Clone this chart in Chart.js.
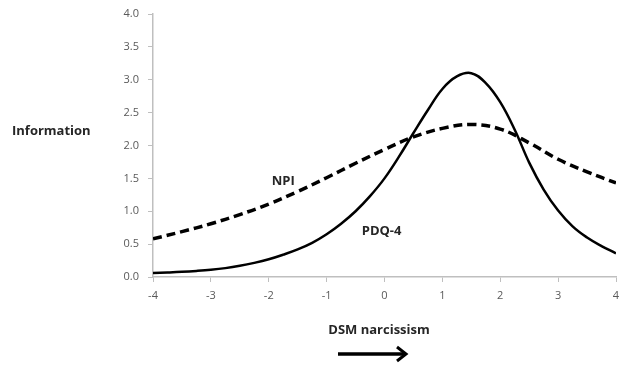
<!DOCTYPE html>
<html>
<head>
<meta charset="utf-8">
<script src="https://cdn.jsdelivr.net/npm/chart.js@4.4.1/dist/chart.umd.min.js"></script>
<style>
  html, body { margin: 0; padding: 0; background: #fff; }
  #wrap { width: 619px; height: 368px; position: relative; }
</style>
</head>
<body>
<div id="wrap"><canvas id="c" width="619" height="368"></canvas></div>
<script>
// Trait level (theta) on the DSM narcissism scale
const thetaPdq = [-4, -3.75, -3.5, -3.25, -3, -2.75, -2.5, -2.25, -2, -1.75, -1.5, -1.25, -1, -0.75, -0.5, -0.25,
                  0, 0.25, 0.5, 0.75, 1, 1.25, 1.5, 1.75, 2, 2.25, 2.5, 2.75, 3, 3.25, 3.5, 3.75, 4];
// Test information, PDQ-4
const infoPdq  = [0.06, 0.068, 0.078, 0.092, 0.11, 0.135, 0.17, 0.215, 0.27, 0.34, 0.42, 0.52, 0.65, 0.81, 1.00, 1.23,
                  1.50, 1.83, 2.19, 2.54, 2.86, 3.05, 3.10, 2.95, 2.66, 2.24, 1.74, 1.33, 1.01, 0.77, 0.60, 0.47, 0.36];

const thetaNpi = [-4, -3.5, -3, -2.5, -2, -1.5, -1, -0.5, 0, 0.5, 1, 1.5, 2, 2.5, 3, 3.5, 4];
// Test information, NPI
const infoNpi  = [0.58, 0.69, 0.81, 0.95, 1.11, 1.30, 1.51, 1.73, 1.94, 2.13, 2.26, 2.32, 2.25, 2.04, 1.79, 1.60, 1.43];

const xTicks = [-4, -3, -2, -1, 0, 1, 2, 3, 4];
const yTicks = [0, 0.5, 1, 1.5, 2, 2.5, 3, 3.5, 4];

// Curve labels placed in data units
const curveLabels = [
  { text: 'NPI',   x: -1.75, y: 1.45 },
  { text: 'PDQ-4', x: -0.05, y: 0.70 }
];

const FONT = '"Open Sans", Lato, sans-serif';

const pts = (xs, ys) => xs.map((x, i) => ({ x, y: ys[i] }));

const annotate = {
  id: 'annotate',
  afterDatasetsDraw(chart) {
    const { ctx, scales } = chart;
    ctx.save();
    ctx.fillStyle = '#262626';
    ctx.font = 'bold 13px ' + FONT;
    ctx.textAlign = 'center';
    ctx.textBaseline = 'middle';
    curveLabels.forEach(l => {
      ctx.fillText(l.text, scales.x.getPixelForValue(l.x), scales.y.getPixelForValue(l.y));
    });
    // axis titles
    ctx.textAlign = 'left';
    ctx.fillText('Information', 12, 131);
    ctx.textAlign = 'center';
    ctx.fillText('DSM narcissism', 379, 330);
    // direction arrow
    ctx.strokeStyle = '#000';
    ctx.lineWidth = 3.5;
    ctx.lineCap = 'butt';
    ctx.beginPath();
    ctx.moveTo(338, 354);
    ctx.lineTo(404, 354);
    ctx.stroke();
    ctx.lineWidth = 3;
    ctx.lineJoin = 'miter';
    ctx.beginPath();
    ctx.moveTo(397, 347);
    ctx.lineTo(406, 354);
    ctx.lineTo(397, 361);
    ctx.stroke();
    ctx.restore();
  }
};

new Chart(document.getElementById('c'), {
  type: 'line',
  data: {
    datasets: [
      {
        label: 'NPI',
        data: pts(thetaNpi, infoNpi),
        borderColor: '#000',
        borderWidth: 3.5,
        borderDash: [9, 5],
        pointRadius: 0,
        tension: 0.4,
        fill: false
      },
      {
        label: 'PDQ-4',
        data: pts(thetaPdq, infoPdq),
        borderColor: '#000',
        borderWidth: 2.5,
        pointRadius: 0,
        tension: 0.4,
        fill: false
      }
    ]
  },
  options: {
    responsive: false,
    animation: false,
    devicePixelRatio: 1,
    layout: { padding: { left: 0, right: 3, top: 14, bottom: 0 } },
    plugins: { legend: { display: false }, tooltip: { enabled: false } },
    scales: {
      x: {
        type: 'linear',
        min: -4, max: 4,
        afterBuildTicks: s => { s.ticks = xTicks.map(v => ({ value: v })); },
        afterFit: s => { s.height = 91; s.paddingLeft = 0; s.paddingRight = 0; },
        grid: { drawOnChartArea: false, drawTicks: true, tickLength: 5, color: '#bfbfbf' },
        border: { color: '#bfbfbf', width: 1.5 },
        ticks: { color: '#595959', font: { family: FONT, size: 11 }, padding: 7, maxRotation: 0 }
      },
      y: {
        min: 0, max: 4,
        afterBuildTicks: s => { s.ticks = yTicks.map(v => ({ value: v })); },
        afterFit: s => { s.width = 153; s.paddingTop = 0; s.paddingBottom = 0; },
        grid: { drawOnChartArea: false, drawTicks: true, tickLength: 5, color: '#bfbfbf' },
        border: { color: '#bfbfbf', width: 1.5 },
        ticks: { color: '#595959', font: { family: FONT, size: 11 }, padding: 9,
                 callback: v => Number(v).toFixed(1) }
      }
    }
  },
  plugins: [annotate]
});
</script>
</body>
</html>
